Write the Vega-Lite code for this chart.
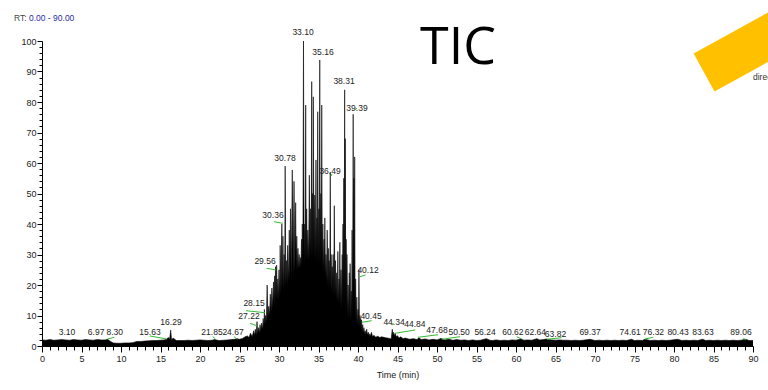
{
  "$schema": "https://vega.github.io/schema/vega-lite/v6.json",
  "width": 711,
  "height": 305,
  "autosize": {"type": "none"},
  "padding": {"left": 42, "top": 41, "right": 15, "bottom": 44},
  "background": "white",
  "config": {
    "view": {"stroke": null},
    "font": "Liberation Sans",
    "axis": {"grid": false, "domainColor": "black", "tickColor": "black", "labelColor": "#222", "labelFont": "Liberation Sans", "labelFontSize": 9, "titleFont": "Liberation Sans", "titleFontWeight": "normal", "titleColor": "#222", "labelOverlap": false, "labelBound": false, "labelFlush": false}
  },
  "datasets": {
    "trace": [
      {"t":0,"v":2.0},{"t":0.5,"v":1.9},{"t":1,"v":2.1},{"t":1.5,"v":1.9},{"t":2,"v":2.0},{"t":2.5,"v":2.1},{"t":3,"v":2.0},{"t":3.5,"v":1.9},{"t":4,"v":2.1},{"t":4.5,"v":2.0},{"t":5,"v":1.9},{"t":5.5,"v":2.1},{"t":6,"v":2.0},{"t":6.5,"v":1.9},{"t":7,"v":2.1},{"t":7.5,"v":2.0},{"t":8,"v":2.0},{"t":8.3,"v":2.2},{"t":8.6,"v":1.6},{"t":9,"v":1.0},{"t":9.5,"v":0.9},{"t":10,"v":0.9},{"t":10.5,"v":1.0},{"t":11,"v":1.0},{"t":11.5,"v":1.1},{"t":12,"v":1.5},{"t":12.5,"v":1.5},{"t":13,"v":1.6},{"t":13.5,"v":1.7},{"t":14,"v":1.8},{"t":14.5,"v":1.8},{"t":15,"v":1.9},{"t":15.5,"v":2.0},{"t":15.8,"v":2.3},{"t":16.0,"v":2.8},{"t":16.15,"v":2.2},{"t":16.29,"v":5.2},{"t":16.4,"v":2.0},{"t":16.6,"v":2.6},{"t":17,"v":1.8},{"t":17.5,"v":1.8},{"t":18,"v":1.8},{"t":18.5,"v":1.9},{"t":19,"v":1.8},{"t":19.5,"v":1.9},{"t":20,"v":2.0},{"t":20.5,"v":1.9},{"t":21,"v":1.8},{"t":21.5,"v":1.9},{"t":21.85,"v":2.1},{"t":22.2,"v":1.9},{"t":22.5,"v":1.8},{"t":23,"v":1.9},{"t":23.5,"v":2.0},{"t":24,"v":2.1},{"t":24.4,"v":2.2},{"t":24.67,"v":2.4},{"t":25,"v":2.2},{"t":25.4,"v":2.5},{"t":25.7,"v":3.0},{"t":26.0,"v":3.3},
      {"t":26.2,"v":2.8},{"t":26.4,"v":4.2},{"t":26.6,"v":3.0},{"t":26.8,"v":5.0},{"t":26.9,"v":3.4},{"t":27.0,"v":5.5},{"t":27.1,"v":3.6},{"t":27.22,"v":8.0},{"t":27.3,"v":4.0},{"t":27.4,"v":6.0},{"t":27.5,"v":4.2},{"t":27.6,"v":7.0},{"t":27.7,"v":4.8},{"t":27.8,"v":7.5},{"t":27.9,"v":5.5},{"t":28.0,"v":9.0},{"t":28.08,"v":6.0},{"t":28.15,"v":12.0},{"t":28.22,"v":7.0},{"t":28.3,"v":10.0},{"t":28.4,"v":8.0},{"t":28.5,"v":20.0},{"t":28.6,"v":9.0},{"t":28.7,"v":13.0},{"t":28.8,"v":10.0},{"t":28.9,"v":17.0},{"t":29.0,"v":11.5},{"t":29.1,"v":19.0},{"t":29.2,"v":12.5},{"t":29.3,"v":21.0},{"t":29.38,"v":13.5},{"t":29.45,"v":23.0},{"t":29.5,"v":14.0},{"t":29.56,"v":26.0},{"t":29.63,"v":15.0},{"t":29.7,"v":26.5},{"t":29.78,"v":15.0},{"t":29.85,"v":22.0},{"t":29.92,"v":15.5},{"t":30.0,"v":25.0},{"t":30.08,"v":16.0},{"t":30.15,"v":33.0},{"t":30.25,"v":17.0},{"t":30.36,"v":40.0},{"t":30.43,"v":18.0},{"t":30.5,"v":36.0},{"t":30.57,"v":18.0},{"t":30.65,"v":30.0},{"t":30.72,"v":19.0},{"t":30.78,"v":59.0},{"t":30.86,"v":19.5},{"t":30.95,"v":28.0},{"t":31.02,"v":20.0},{"t":31.1,"v":33.0},{"t":31.2,"v":21.0},{"t":31.3,"v":38.0},{"t":31.38,"v":21.5},{"t":31.45,"v":45.0},{"t":31.55,"v":22.0},{"t":31.68,"v":57.7},{"t":31.8,"v":23.0},{"t":31.9,"v":54.0},{"t":32.0,"v":24.0},{"t":32.11,"v":47.0},{"t":32.18,"v":24.5},{"t":32.25,"v":36.0},{"t":32.32,"v":25.0},{"t":32.4,"v":32.0},{"t":32.47,"v":25.0},{"t":32.55,"v":30.0},{"t":32.62,"v":25.5},{"t":32.7,"v":29.0},{"t":32.78,"v":26.0},{"t":32.85,"v":35.0},{"t":32.9,"v":26.5},{"t":32.95,"v":40.0},{"t":33.02,"v":27.0},{"t":33.10,"v":100},{"t":33.18,"v":27.0},{"t":33.25,"v":40.0},{"t":33.31,"v":27.5},{"t":33.38,"v":79.0},{"t":33.44,"v":28.0},{"t":33.5,"v":45.0},{"t":33.58,"v":28.0},{"t":33.65,"v":38.0},{"t":33.75,"v":28.0},{"t":33.84,"v":56.0},{"t":33.92,"v":28.0},{"t":34.0,"v":45.0},{"t":34.07,"v":28.0},{"t":34.14,"v":86.7},{"t":34.2,"v":28.0},{"t":34.25,"v":50.0},{"t":34.3,"v":28.0},{"t":34.34,"v":81.7},{"t":34.43,"v":27.5},{"t":34.52,"v":49.5},{"t":34.6,"v":27.0},{"t":34.68,"v":61.0},{"t":34.74,"v":27.0},{"t":34.8,"v":42.0},{"t":34.85,"v":26.5},{"t":34.9,"v":76.8},{"t":34.98,"v":26.0},{"t":35.05,"v":45.0},{"t":35.1,"v":26.0},{"t":35.16,"v":93.8},{"t":35.23,"v":25.5},{"t":35.3,"v":50.0},{"t":35.36,"v":25.0},{"t":35.41,"v":79.0},{"t":35.48,"v":24.5},{"t":35.55,"v":40.0},{"t":35.62,"v":24.0},{"t":35.7,"v":35.0},{"t":35.75,"v":23.0},{"t":35.8,"v":42.0},{"t":35.88,"v":22.0},{"t":35.95,"v":30.0},{"t":36.02,"v":21.0},{"t":36.1,"v":38.0},{"t":36.18,"v":20.0},{"t":36.25,"v":32.0},{"t":36.3,"v":19.0},{"t":36.35,"v":28.0},{"t":36.42,"v":18.5},{"t":36.49,"v":57.0},{"t":36.55,"v":18.0},{"t":36.6,"v":30.0},{"t":36.68,"v":17.5},{"t":36.75,"v":26.0},{"t":36.8,"v":17.0},{"t":36.85,"v":30.0},{"t":36.92,"v":16.5},{"t":37.0,"v":46.0},{"t":37.08,"v":16.0},{"t":37.15,"v":28.0},{"t":37.22,"v":15.0},{"t":37.3,"v":24.0},{"t":37.38,"v":14.0},{"t":37.45,"v":31.0},{"t":37.52,"v":13.5},{"t":37.6,"v":22.0},{"t":37.65,"v":13.0},{"t":37.7,"v":34.0},{"t":37.78,"v":12.5},{"t":37.85,"v":25.0},{"t":37.92,"v":12.0},{"t":38.0,"v":30.0},{"t":38.05,"v":11.5},{"t":38.1,"v":40.0},{"t":38.15,"v":11.0},{"t":38.2,"v":55.0},{"t":38.26,"v":12.0},{"t":38.31,"v":84.0},{"t":38.35,"v":14.0},{"t":38.39,"v":68.0},{"t":38.45,"v":10.5},{"t":38.5,"v":35.0},{"t":38.55,"v":10.0},{"t":38.6,"v":30.0},{"t":38.68,"v":9.5},{"t":38.75,"v":20.0},{"t":38.82,"v":9.0},{"t":38.9,"v":24.0},{"t":38.95,"v":8.5},{"t":39.0,"v":27.0},{"t":39.08,"v":8.0},{"t":39.15,"v":18.0},{"t":39.2,"v":8.0},{"t":39.25,"v":38.0},{"t":39.32,"v":9.0},{"t":39.39,"v":76.0},{"t":39.44,"v":10.0},{"t":39.48,"v":55.0},{"t":39.53,"v":9.0},{"t":39.58,"v":62.0},{"t":39.64,"v":7.5},{"t":39.7,"v":22.0},{"t":39.78,"v":7.0},{"t":39.85,"v":16.0},{"t":39.92,"v":6.5},{"t":40.0,"v":12.0},{"t":40.06,"v":6.0},{"t":40.12,"v":25.0},{"t":40.18,"v":5.5},{"t":40.25,"v":10.0},{"t":40.3,"v":5.0},{"t":40.35,"v":9.0},{"t":40.4,"v":5.0},{"t":40.45,"v":8.5},{"t":40.52,"v":4.5},{"t":40.6,"v":7.0},{"t":40.68,"v":4.2},{"t":40.75,"v":6.0},{"t":40.82,"v":4.0},{"t":40.9,"v":5.0},{"t":41.0,"v":3.8},{"t":41.1,"v":5.5},{"t":41.2,"v":3.6},{"t":41.3,"v":4.5},{"t":41.4,"v":3.4},{"t":41.5,"v":4.0},{"t":41.6,"v":3.2},{"t":41.7,"v":4.5},{"t":41.85,"v":3.0},{"t":42.0,"v":3.5},{"t":42.25,"v":2.9},{"t":42.5,"v":3.2},{"t":42.75,"v":2.8},{"t":43.0,"v":3.0},{"t":43.5,"v":2.7},{"t":44.0,"v":2.5},{"t":44.2,"v":2.3},{"t":44.34,"v":5.5},{"t":44.42,"v":3.5},{"t":44.5,"v":4.5},{"t":44.6,"v":3.2},{"t":44.7,"v":4.2},{"t":44.85,"v":3.0},{"t":45.0,"v":3.4},{"t":45.2,"v":2.6},{"t":45.4,"v":3.0},{"t":45.7,"v":2.4},{"t":46.0,"v":2.6},{"t":46.5,"v":2.2},{"t":47.0,"v":2.4},{"t":47.5,"v":2.1},{"t":47.68,"v":2.7},{"t":48.0,"v":2.1},{"t":48.5,"v":2.3},{"t":49.0,"v":2.0},{"t":49.5,"v":2.2},{"t":50.0,"v":2.0},{"t":50.5,"v":2.5},{"t":51.0,"v":2.0},{"t":51.5,"v":2.2},{"t":52.0,"v":1.9},{"t":52.5,"v":2.1},{"t":53.0,"v":1.9},{"t":53.5,"v":2.0},{"t":54.0,"v":1.8},{"t":54.5,"v":2.0},{"t":55.0,"v":1.8},{"t":55.5,"v":1.9},{"t":56.24,"v":2.4},{"t":56.7,"v":1.9},{"t":57.0,"v":1.8},{"t":57.5,"v":2.0},{"t":58,"v":1.8},{"t":58.5,"v":1.9},{"t":59,"v":1.8},{"t":59.5,"v":2.0},{"t":60.0,"v":1.9},{"t":60.62,"v":2.3},{"t":61,"v":1.9},{"t":61.5,"v":2.0},{"t":62,"v":1.9},{"t":62.64,"v":2.4},{"t":63,"v":2.0},{"t":63.5,"v":2.1},{"t":63.82,"v":2.3},{"t":64.5,"v":2.0},{"t":65,"v":1.9},{"t":65.5,"v":2.0},{"t":66,"v":1.9},{"t":66.5,"v":1.9},{"t":67,"v":1.8},{"t":67.5,"v":1.9},{"t":68,"v":1.8},{"t":68.5,"v":1.9},{"t":69.37,"v":2.2},{"t":70,"v":1.8},{"t":70.5,"v":1.9},{"t":71,"v":1.8},{"t":71.5,"v":1.9},{"t":72,"v":1.8},{"t":72.5,"v":1.9},{"t":73,"v":1.8},{"t":73.5,"v":1.9},{"t":74,"v":1.8},{"t":74.61,"v":2.2},{"t":75,"v":1.8},{"t":75.5,"v":1.9},{"t":76,"v":1.8},{"t":76.32,"v":2.2},{"t":77,"v":1.8},{"t":77.5,"v":1.9},{"t":78,"v":1.8},{"t":78.5,"v":1.9},{"t":79,"v":1.8},{"t":79.5,"v":1.9},{"t":80.43,"v":2.2},{"t":81,"v":1.8},{"t":81.5,"v":1.9},{"t":82,"v":1.8},{"t":82.5,"v":1.9},{"t":83,"v":1.8},{"t":83.63,"v":2.2},{"t":84,"v":1.8},{"t":84.5,"v":1.9},{"t":85,"v":1.8},{"t":85.5,"v":1.9},{"t":86,"v":1.8},{"t":86.5,"v":1.9},{"t":87,"v":1.8},{"t":87.5,"v":1.9},{"t":88,"v":1.8},{"t":88.5,"v":1.9},{"t":89.06,"v":2.2},{"t":89.5,"v":1.8},{"t":90,"v":1.8}
    ],
    "labels": [
      {"label":"3.10","t":3.16,"v":4.6},{"label":"6.97","t":6.85,"v":4.6},{"label":"8.30","t":9.2,"v":4.6},{"label":"15.63","t":13.67,"v":4.6},{"label":"16.29","t":16.33,"v":7.9},{"label":"21.85","t":21.52,"v":4.6},{"label":"24.67","t":24.18,"v":4.6},{"label":"27.22","t":26.2,"v":9.8},{"label":"28.15","t":26.84,"v":14.1},{"label":"29.56","t":28.23,"v":27.9},{"label":"30.36","t":29.24,"v":42.9},{"label":"30.78","t":30.76,"v":61.6},{"label":"33.10","t":33.04,"v":103},{"label":"35.16","t":35.57,"v":96.4},{"label":"36.49","t":36.46,"v":57.4},{"label":"38.31","t":38.23,"v":86.9},{"label":"39.39","t":39.87,"v":78},{"label":"40.12","t":41.27,"v":24.9},{"label":"40.45","t":41.65,"v":9.8},{"label":"44.34","t":44.56,"v":7.9},{"label":"44.84","t":47.2,"v":7.2},{"label":"47.68","t":50.0,"v":5.2},{"label":"50.50","t":52.8,"v":4.6},{"label":"56.24","t":56.08,"v":4.6},{"label":"60.62","t":59.6,"v":4.6},{"label":"62.64","t":62.45,"v":4.6},{"label":"63.82","t":65.0,"v":3.9},{"label":"69.37","t":69.37,"v":4.6},{"label":"74.61","t":74.45,"v":4.6},{"label":"76.32","t":77.4,"v":4.6},{"label":"80.43","t":80.51,"v":4.6},{"label":"83.63","t":83.67,"v":4.6},{"label":"89.06","t":88.48,"v":4.6}
    ],
    "leaders": [
      {"t":8.32,"t2":9.15,"v":2.3,"v2":2.85},{"t":13.67,"t2":15.78,"v":3.28,"v2":2.3},{"t":21.61,"t2":21.94,"v":3.05,"v2":2.39},{"t":24.3,"t2":24.72,"v":3.05,"v2":2.2},{"t":26.33,"t2":27.25,"v":7.44,"v2":6.56},{"t":25.82,"t2":28.23,"v":11.57,"v2":10.92},{"t":28.44,"t2":29.62,"v":25.48,"v2":24.92},{"t":29.37,"t2":30.47,"v":40.75,"v2":40.23},{"t":36.58,"t2":36.71,"v":55.7,"v2":56.4},{"t":39.62,"t2":39.87,"v":77.4,"v2":78.0},{"t":40.25,"t2":40.97,"v":22.7,"v2":23.3},{"t":40.47,"t2":41.73,"v":7.77,"v2":8.3},{"t":44.34,"t2":44.47,"v":6.89,"v2":7.44},{"t":44.68,"t2":47.22,"v":4.16,"v2":5.25},{"t":47.59,"t2":50.13,"v":2.85,"v2":3.7},{"t":50.59,"t2":52.91,"v":2.2,"v2":3.05},{"t":60.09,"t2":60.72,"v":3.05,"v2":2.3},{"t":63.89,"t2":65.78,"v":2.2,"v2":2.72},{"t":76.33,"t2":77.38,"v":2.3,"v2":2.85},{"t":88.77,"t2":89.11,"v":2.52,"v2":1.97}
    ]
  },
  "encoding": {
    "x": {"field": "t", "type": "quantitative", "scale": {"domain": [0, 90], "nice": false, "zero": false},
      "axis": {"title": "Time (min)", "titleFontSize": 9, "titlePadding": 7, "values": [0,1,2,3,4,5,6,7,8,9,10,11,12,13,14,15,16,17,18,19,20,21,22,23,24,25,26,27,28,29,30,31,32,33,34,35,36,37,38,39,40,41,42,43,44,45,46,47,48,49,50,51,52,53,54,55,56,57,58,59,60,61,62,63,64,65,66,67,68,69,70,71,72,73,74,75,76,77,78,79,80,81,82,83,84,85,86,87,88,89,90],
        "labelExpr": "datum.value % 5 === 0 ? datum.label : ''", "labelOverlap": false,
        "tickSize": {"condition": {"test": "datum.value % 5 === 0", "value": 6}, "value": 4}, "labelPadding": 2}},
    "y": {"field": "v", "type": "quantitative", "scale": {"domain": [0, 100], "nice": false},
      "axis": {"title": null, "values": [0,2,4,6,8,10,12,14,16,18,20,22,24,26,28,30,32,34,36,38,40,42,44,46,48,50,52,54,56,58,60,62,64,66,68,70,72,74,76,78,80,82,84,86,88,90,92,94,96,98,100],
        "labelExpr": "datum.value % 10 === 0 ? datum.label : ''", "labelOverlap": false,
        "tickSize": {"condition": {"test": "datum.value % 10 === 0", "value": 5}, "value": 3}, "labelPadding": 1}}
  },
  "layer": [
    {
      "data": {"values": [{"t": 94.9, "v": 105.5}]},
      "mark": {"type": "point", "shape": "M-1,-0.217L1,-0.217L1,0.217L-1,0.217Z", "filled": true, "fill": "#FFC000", "opacity": 1, "strokeWidth": 0, "size": 40000, "angle": 331.2, "clip": false}
    },
    {
      "data": {"name": "trace"},
      "mark": {"type": "area", "color": "black", "opacity": 1}
    },
    {
      "data": {"name": "trace"},
      "mark": {"type": "line", "color": "black", "strokeWidth": 0.6}
    },
    {
      "data": {"name": "leaders"},
      "mark": {"type": "rule", "color": "#33bb33", "strokeWidth": 1},
      "encoding": {"x2": {"field": "t2"}, "y2": {"field": "v2"}}
    },
    {
      "data": {"name": "labels"},
      "mark": {"type": "text", "font": "Liberation Sans", "fontSize": 8.5, "color": "#222", "baseline": "middle", "align": "center", "clip": false},
      "encoding": {"text": {"field": "label"}}
    },
    {
      "data": {"values": [{"t": 52.66, "v": 92.5, "label": "TIC"}]},
      "mark": {"type": "text", "font": "Open Sans", "fontSize": 52, "color": "black", "baseline": "alphabetic", "align": "center", "clip": false},
      "encoding": {"text": {"field": "label"}}
    },
    {
      "data": {"values": [{"t": -3.54, "v": 107.5, "label": "RT:"}]},
      "mark": {"type": "text", "font": "Liberation Sans", "fontSize": 8.5, "color": "#444", "baseline": "middle", "align": "left", "clip": false},
      "encoding": {"text": {"field": "label"}}
    },
    {
      "data": {"values": [{"t": -1.65, "v": 107.5, "label": "0.00 - 90.00"}]},
      "mark": {"type": "text", "font": "Liberation Sans", "fontSize": 8.5, "color": "#2c2ca8", "baseline": "middle", "align": "left", "clip": false},
      "encoding": {"text": {"field": "label"}}
    },
    {
      "data": {"values": [{"t": 90.0, "v": 87.2, "label": "direc"}]},
      "mark": {"type": "text", "font": "Liberation Sans", "fontSize": 8.5, "color": "#333", "baseline": "alphabetic", "align": "left", "clip": false},
      "encoding": {"text": {"field": "label"}}
    }
  ]
}
